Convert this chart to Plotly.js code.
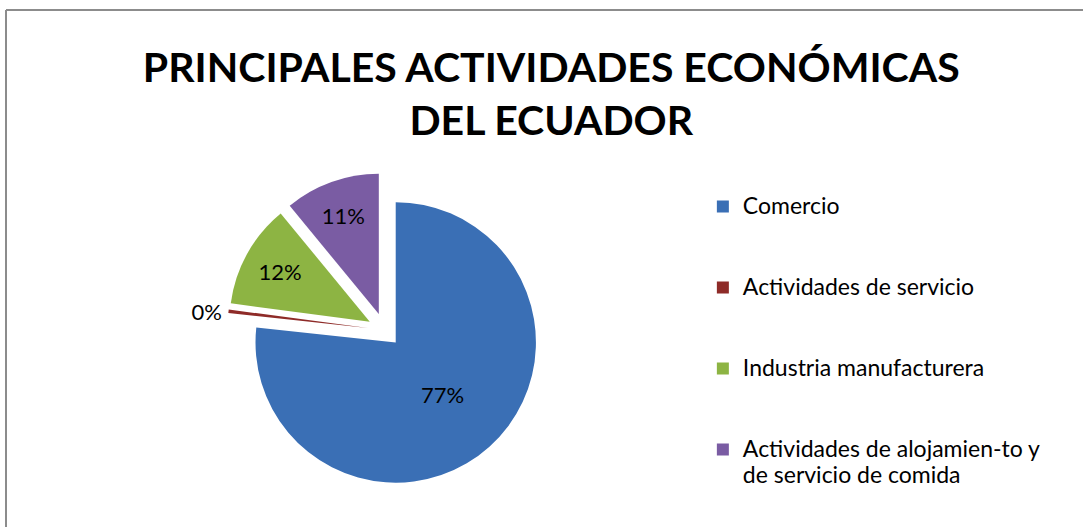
<!DOCTYPE html>
<html>
<head>
<meta charset="utf-8">
<script src="https://cdn.plot.ly/plotly-3.0.1.min.js"></script>
<style>
html,body{margin:0;padding:0;background:#fff;}
#chart{width:1083px;height:527px;}
</style>
</head>
<body>
<div id="chart"></div>
<script>
// Data
var categories = [
  "Comercio",
  "Actividades de servicio",
  "Industria manufacturera",
  "Actividades de alojamien-to y<br>de servicio de comida"
];
var shares = [77, 0.4, 12, 11];
var sliceColors = ["#3A6FB5", "#8E2B28", "#8DB443", "#7A5CA3"];
var labelPositions = ["inside", "outside", "inside", "inside"];
var titleText = "PRINCIPALES ACTIVIDADES ECONÓMICAS<br>DEL ECUADOR";

// legend display labels: padded with blank lines for spacing
var legendLabels = categories.map(function (c) {
  var parts = c.split("<br>");
  var txt = parts.map(function (p) { return '<span style="font-size:23px">' + p + '</span>'; }).join("<br>");
  for (var i = parts.length; i < 3; i++) txt += "<br> ";
  return txt;
});

var trace = {
  type: "pie",
  labels: legendLabels,
  values: shares,
  sort: false,
  direction: "clockwise",
  rotation: 0,
  pull: [0.12, 0.12, 0.12, 0.12],
  marker: { colors: sliceColors, line: { width: 0 } },
  texttemplate: "%{percent:.0%}",
  textposition: labelPositions,
  textfont: { family: "Lato, sans-serif", size: 22, color: "#000" },
  insidetextorientation: "horizontal",
  hoverinfo: "none",
  domain: { x: [0.21, 0.50], y: [0.076, 0.672] }
};

var layout = {
  width: 1083,
  height: 527,
  margin: { l: 0, r: 0, t: 0, b: 0 },
  paper_bgcolor: "#fff",
  font: { family: "Lato, sans-serif", color: "#000" },
  title: {
    text: titleText,
    font: { family: "Lato, sans-serif", size: 41, weight: 700, color: "#000" },
    x: 0.509,
    xanchor: "center",
    y: 1 - 82 / 527,
    yanchor: "top",
    yref: "container"
  },
  showlegend: true,
  legend: {
    x: 0.649,
    xanchor: "left",
    y: 1 - 187 / 527,
    yanchor: "top",
    valign: "top",
    font: { family: "Lato, sans-serif", size: 20, color: "#000" },
    bgcolor: "rgba(0,0,0,0)",
    borderwidth: 0
  },
  shapes: [
    { type: "line", xref: "paper", yref: "paper", x0: 6 / 1083, x1: 6 / 1083, y0: 0, y1: 1 - 10 / 527, line: { color: "#8c8c8c", width: 2 } },
    { type: "line", xref: "paper", yref: "paper", x0: 6 / 1083, x1: 1, y0: 1 - 10 / 527, y1: 1 - 10 / 527, line: { color: "#8c8c8c", width: 2 } }
  ]
};

Plotly.newPlot("chart", [trace], layout, { displayModeBar: false, staticPlot: true });
</script>
</body>
</html>
